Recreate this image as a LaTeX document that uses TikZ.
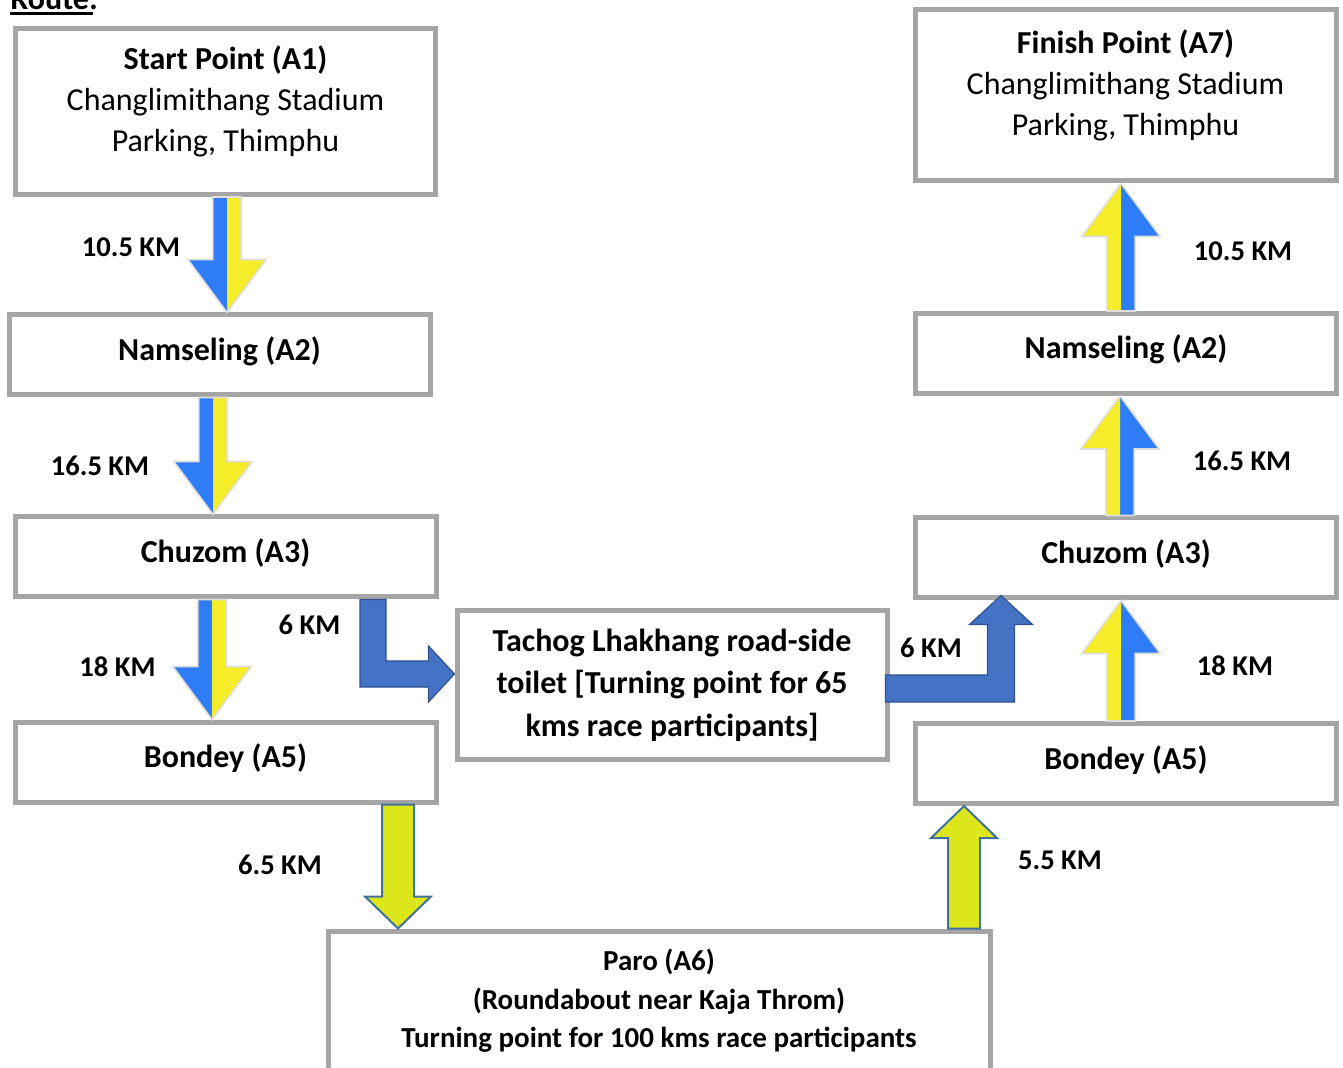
\documentclass[tikz,border=0pt]{standalone}
\usepackage{fontspec}
\setmainfont{Carlito}
\usetikzlibrary{calc,positioning}
\definecolor{boxgray}{RGB}{165,165,165}
\definecolor{splitblue}{RGB}{46,124,246}
\definecolor{splityellow}{RGB}{245,236,42}
\definecolor{bentblue}{RGB}{68,114,196}
\definecolor{bentedge}{RGB}{47,82,143}
\definecolor{limefill}{RGB}{220,230,26}
\definecolor{limeedge}{RGB}{65,113,156}
\tikzset{%
  stopbox/.style   = {shape=rectangle, draw=boxgray, line width=2.5pt,%
                      fill=white, inner sep=0pt, align=center,%
                      font=\fontsize{16}{20.5}\selectfont\bfseries},%
  onebox/.style    = {stopbox, minimum height=40pt, minimum width=210.5pt,%
                      text height=11pt, text depth=5.5pt},%
  placetext/.style = {align=center, inner sep=0pt,%
                      font=\fontsize{16}{20.5}\selectfont},%
  kmlabel/.style   = {font=\fontsize{14.3}{17}\selectfont\bfseries, inner sep=0pt},%
  bent/.style      = {fill=bentblue, draw=bentedge, line width=0.6pt},%
  lime/.style      = {fill=limefill, draw=limeedge, line width=1pt}%
}
\newcommand{\splitarrow}[2]{%
  \coordinate (sa-t) at (#2 |- #1);
  \coordinate (sa-h) at ($(#2)!26.5pt!(sa-t)$);
  \fill[splitblue] (sa-t) -- ($(sa-t)!7.1pt!-90:(#2)$) -- ($(sa-h)!7.1pt!-90:(#2)$)
    -- ($(sa-h)!19.6pt!-90:(#2)$) -- (#2) -- cycle;
  \fill[splityellow] (sa-t) -- ($(sa-t)!7.1pt!90:(#2)$) -- ($(sa-h)!7.1pt!90:(#2)$)
    -- ($(sa-h)!19.6pt!90:(#2)$) -- (#2) -- cycle;
  \draw[black!13, line width=0.8pt] ($(sa-t)!7.1pt!-90:(#2)$) -- ($(sa-h)!7.1pt!-90:(#2)$)
    -- ($(sa-h)!19.6pt!-90:(#2)$) -- (#2) -- ($(sa-h)!19.6pt!90:(#2)$)
    -- ($(sa-h)!7.1pt!90:(#2)$) -- ($(sa-t)!7.1pt!90:(#2)$) -- cycle;
}
\newcommand{\limearrow}[2]{%
  \coordinate (la-t) at (#2 |- #1);
  \coordinate (la-h) at ($(#2)!16pt!(la-t)$);
  \draw[lime] ($(la-t)!8pt!90:(#2)$) -- ($(la-h)!8pt!90:(#2)$) -- ($(la-h)!16.5pt!90:(#2)$)
    -- (#2) -- ($(la-h)!16.5pt!-90:(#2)$) -- ($(la-h)!8pt!-90:(#2)$)
    -- ($(la-t)!8pt!-90:(#2)$) -- cycle;
}
\begin{document}
\begin{tikzpicture}[x=0.5pt, y=-0.5pt]
\useasboundingbox (0,0) rectangle (1343,1068);

\node[font=\fontsize{16}{20}\selectfont\bfseries, inner sep=0pt, anchor=base west] (route) at (10,10) {Route:};
\draw[line width=1.5pt] ([yshift=-1.8pt]route.base west) -- ([yshift=-1.8pt,xshift=-2.5pt]route.base east);

% going out
\node[stopbox, minimum width=210pt, minimum height=83pt] (start) at (225.5,111.5) {};
\node[placetext] (starttext) at ([yshift=5pt]start.center)
  {\textbf{Start Point (A1)}\\Changlimithang Stadium\\Parking, Thimphu};
\node[onebox] (namL) at (219.5,355) {Namseling (A2)};
\node[onebox] (chuzomL) at (225.5,557) {Chuzom (A3)};
\node[onebox] (bondeyL) at (225.5,762) {Bondey (A5)};
\node[stopbox, minimum width=215pt, minimum height=74pt,
      font=\fontsize{16}{21.25}\selectfont\bfseries] (tachog) at (672,685)
  {Tachog Lhakhang road-side\\toilet [Turning point for 65\\kms race participants]};
\node[stopbox, minimum width=331pt, minimum height=70pt,
      font=\fontsize{14.5}{19.25}\selectfont\bfseries] (paro) at (659,1001)
  {Paro (A6)\\(Roundabout near Kaja Throm)\\Turning point for 100 kms race participants};

% coming back
\node[stopbox, minimum width=210.5pt, minimum height=85.5pt] (finish) at (1125.5,95.5) {};
\node[placetext] (finishtext) at ([yshift=5pt]finish.center)
  {\textbf{Finish Point (A7)}\\Changlimithang Stadium\\Parking, Thimphu};
\node[onebox] (namR) at (1126,353.5) {Namseling (A2)};
\node[onebox] (chuzomR) at (1126,558) {Chuzom (A3)};
\node[onebox] (bondeyR) at (1126,763.5) {Bondey (A5)};

\coordinate (d1) at (namL.north -| 227,0);
\coordinate (d2) at (chuzomL.north -| 213,0);
\coordinate (d3) at (bondeyL.north -| 212,0);
\coordinate (u1) at (chuzomR.south -| 1121,0);
\coordinate (u2) at (namR.south -| 1120,0);
\coordinate (u3) at (finish.south -| 1121,0);
\splitarrow{start.south}{d1}
\splitarrow{namL.south}{d2}
\splitarrow{chuzomL.south}{d3}
\splitarrow{bondeyR.north}{u1}
\splitarrow{chuzomR.north}{u2}
\splitarrow{namR.north}{u3}

\coordinate (l1) at (paro.north -| 398,0);
\coordinate (l2) at (bondeyR.south -| 964,0);
\limearrow{bondeyL.south}{l1}
\limearrow{paro.north}{l2}

\coordinate (b1s) at (chuzomL.south -| 373,0);
\coordinate (b1t) at (tachog.west |- 0,674);
\coordinate (b1c) at (b1s |- b1t);
\draw[bent] ([xshift=-6.5pt]b1s) -- ([xshift=6.5pt]b1s) -- ([xshift=6.5pt,yshift=6.5pt]b1c)
  -- ([xshift=-13pt,yshift=6.5pt]b1t) -- ([xshift=-13pt,yshift=14pt]b1t) -- (b1t)
  -- ([xshift=-13pt,yshift=-14pt]b1t) -- ([xshift=-13pt,yshift=-6.5pt]b1t)
  -- ([xshift=-6.5pt,yshift=-6.5pt]b1c) -- cycle;

\coordinate (b2s) at ([xshift=-2pt]tachog.east |- 0,688.5);
\coordinate (b2t) at ($(chuzomR.south -| 1001,0)+(0,-5)$);
\coordinate (b2c) at (b2t |- b2s);
\draw[bent] ([yshift=6.75pt]b2s) -- ([xshift=-6.75pt,yshift=6.75pt]b2c)
  -- ([xshift=-6.75pt,yshift=-14.5pt]b2t) -- ([xshift=-15.75pt,yshift=-14.5pt]b2t) -- (b2t)
  -- ([xshift=15.75pt,yshift=-14.5pt]b2t) -- ([xshift=6.75pt,yshift=-14.5pt]b2t)
  -- ([xshift=6.75pt,yshift=-6.75pt]b2c) -- ([yshift=-6.75pt]b2s) -- cycle;

\node[kmlabel] (km1) at (131,247) {10.5 KM};
\node[kmlabel] (km2) at (100,466) {16.5 KM};
\node[kmlabel] (km3) at (117.5,667) {18 KM};
\node[kmlabel] (km4) at (309.5,625) {6 KM};
\node[kmlabel] (km5) at (280,865) {6.5 KM};
\node[kmlabel] (km6) at (1060,860) {5.5 KM};
\node[kmlabel] (km7) at (931,648) {6 KM};
\node[kmlabel] (km8) at (1235,666) {18 KM};
\node[kmlabel] (km9) at (1242,461) {16.5 KM};
\node[kmlabel] (km10) at (1243,251) {10.5 KM};
\end{tikzpicture}
\end{document}
